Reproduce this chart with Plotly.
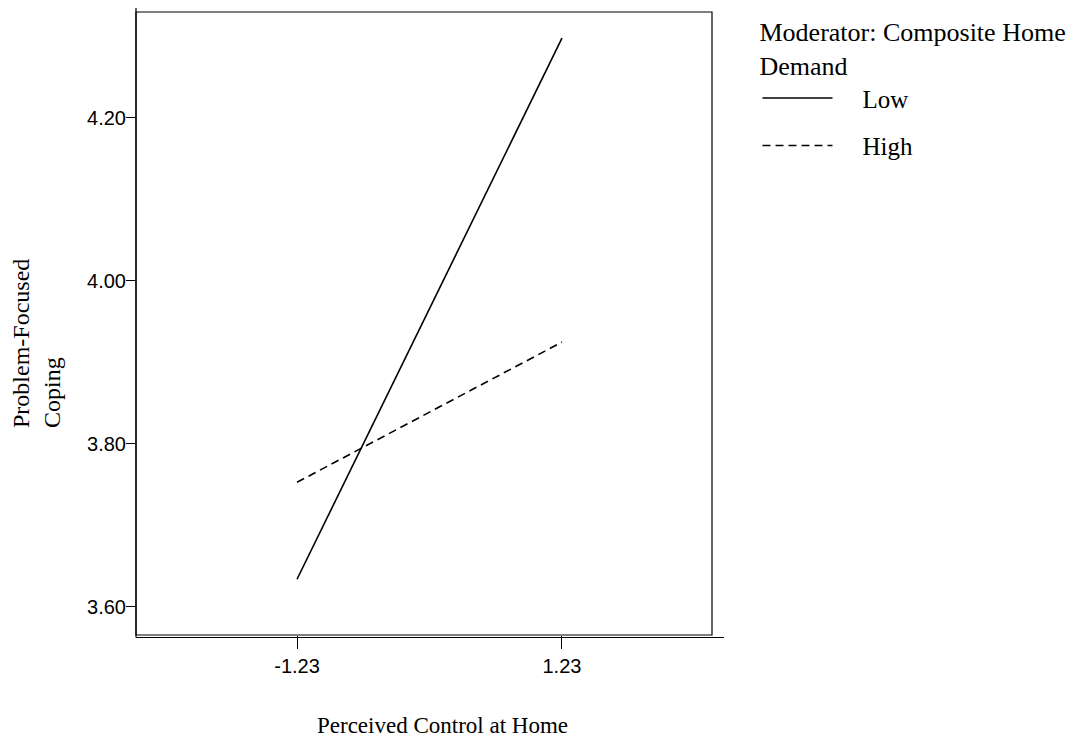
import plotly.graph_objects as go

# Data
x_labels = ["-1.23", "1.23"]
x_vals = [-1.23, 1.23]
low_demand = [3.634, 4.298]
high_demand = [3.753, 3.925]
y_ticks = [3.60, 3.80, 4.00, 4.20]
y_tick_labels = ["3.60", "3.80", "4.00", "4.20"]

serif = "Liberation Serif, Times New Roman, serif"
sans = "Liberation Sans, Arial, sans-serif"

# the page adds an 8px body margin, so the figure is drawn 8px smaller
W, H = 1072, 732
L, T, PW, PH = 128, 4, 576, 623

pad = "\u00a0" * 4
fig = go.Figure()
fig.add_trace(go.Scatter(x=x_vals, y=low_demand, mode="lines", name=pad + "Low",
                         line=dict(color="black", width=1.6, dash="solid"),
                         legendgroup="a"))
fig.add_trace(go.Scatter(x=x_vals, y=high_demand, mode="lines", name=pad + "High",
                         line=dict(color="black", width=1.6, dash="8px,5px"),
                         legendgroup="b"))

fig.update_layout(
    width=W, height=H,
    margin=dict(l=L, r=W - L - PW, t=T, b=H - T - PH, autoexpand=False),
    paper_bgcolor="white", plot_bgcolor="white",
    showlegend=True,
    legend=dict(
        x=1.079, y=1.007, xanchor="left", yanchor="top",
        title=dict(text="Moderator: Composite Home<br>Demand", side="top",
                   font=dict(family=serif, size=26, color="black")),
        font=dict(family=serif, size=25, color="black"),
        tracegroupgap=12, traceorder="grouped", itemwidth=70,
        bgcolor="rgba(0,0,0,0)",
    ),
    xaxis=dict(
        range=[-2.725, 2.623], tickvals=x_vals, ticktext=x_labels,
        ticks="outside", ticklen=13, tickwidth=1, tickcolor="black",
        showgrid=False, zeroline=False, showline=False, automargin=False,
        tickfont=dict(family=sans, size=20, color="black"),
    ),
    yaxis=dict(
        range=[3.5656, 4.330], tickvals=y_ticks, ticktext=y_tick_labels,
        ticks="outside", ticklen=9, tickwidth=1, tickcolor="black",
        ticklabelstandoff=-4,
        showgrid=False, zeroline=False, showline=False, automargin=False,
        tickfont=dict(family=sans, size=20, color="black"),
    ),
    annotations=[
        dict(text="Problem-Focused<br>Coping", textangle=-90, showarrow=False,
             xref="paper", yref="paper", x=(-2 - L) / PW, y=(PH + T - 430 + 8) / PH,
             xanchor="left", yanchor="bottom", align="left",
             font=dict(family=serif, size=24, color="black")),
        dict(text="Perceived Control at Home", showarrow=False,
             xref="paper", yref="paper", x=(442 - 8 - L) / PW,
             y=(PH + T - (H - 1)) / PH, xanchor="center", yanchor="bottom",
             borderpad=0,
             font=dict(family=serif, size=23, color="black")),
    ],
    shapes=[
        dict(type="rect", xref="paper", yref="paper", x0=0, x1=1, y0=0, y1=1,
             line=dict(color="black", width=1.2)),
        dict(type="line", xref="paper", yref="paper", x0=0, x1=0,
             y0=-2.5 / PH, y1=1 + 6 / PH, line=dict(color="black", width=1.2)),
        dict(type="line", xref="paper", yref="paper", x0=0, x1=588 / PW,
             y0=-2.5 / PH, y1=-2.5 / PH, line=dict(color="black", width=1.2)),
    ],
)

fig.write_html("out.html")
